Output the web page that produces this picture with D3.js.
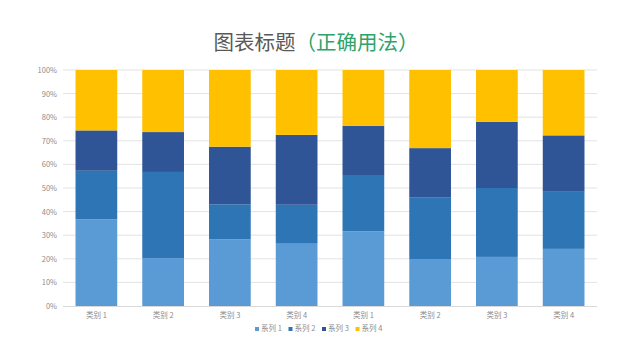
<!DOCTYPE html>
<html><head><meta charset="utf-8">
<script src="https://cdn.jsdelivr.net/npm/d3@7"></script>
<style>body{margin:0;background:#fff}svg{display:block}</style>
</head><body>
<svg id="c" width="640" height="360"></svg>
<script>
const categories = ["类别 1","类别 2","类别 3","类别 4","类别 1","类别 2","类别 3","类别 4"];
const seriesNames = ["系列 1","系列 2","系列 3","系列 4"];
const series1 = [36.7,20.3,28.3,26.4,31.6,19.9,20.8,24.2];
const series2 = [20.6,36.5,14.8,16.5,23.9,26.0,29.2,24.2];
const series3 = [17.1,16.9,24.4,29.6,20.9,21.0,28.1,23.9];
const series4 = [25.6,26.3,32.5,27.5,23.6,33.1,21.9,27.7];
const yTicks = [0,0.1,0.2,0.3,0.4,0.5,0.6,0.7,0.8,0.9,1];
const colors = ["#5B9BD5","#2E75B6","#2F5597","#FFC000"];

const svg = d3.select("#c");
const font = "'Noto Sans CJK SC','Noto Sans',sans-serif";
const m = {l:63, r:43, t:70, b:54};
const W = 640, H = 360;
const x = d3.scaleBand().domain(d3.range(categories.length)).range([m.l, W-m.r]).paddingInner(0.375).paddingOuter(0.1875);
const y = d3.scaleLinear().domain([0,1]).range([H-m.b, m.t]);

const rows = categories.map((c,i)=>{
  const vals=[series1[i],series2[i],series3[i],series4[i]];
  const tot=d3.sum(vals);
  const o={idx:i};
  seriesNames.forEach((s,j)=>o[s]=vals[j]/tot);
  return o;
});
const stacked = d3.stack().keys(seriesNames)(rows);

// gridlines
svg.append("g").selectAll("line").data(yTicks.filter(t=>t>0)).join("line")
  .attr("x1",m.l).attr("x2",W-m.r).attr("y1",d=>y(d)).attr("y2",d=>y(d))
  .attr("stroke","#e3e3e3").attr("stroke-width",1);

// y axis labels
const ya = svg.append("g").attr("transform",`translate(${m.l},0)`)
  .call(d3.axisLeft(y).tickValues(yTicks).tickFormat(d3.format(".0%")).tickSize(0).tickPadding(6));
ya.select(".domain").remove();
ya.selectAll("text").attr("fill","#8c8c8c").style("font-family",font).style("font-size","7.5px");

// bars
svg.append("g").selectAll("g").data(stacked).join("g").attr("fill",(d,i)=>colors[i])
  .selectAll("rect").data(d=>d).join("rect")
  .attr("x",d=>x(d.data.idx)).attr("width",x.bandwidth())
  .attr("y",d=>y(d[1])).attr("height",d=>y(d[0])-y(d[1]));

// x axis
const xa = svg.append("g").attr("transform",`translate(0,${y(0)})`)
  .call(d3.axisBottom(x).tickFormat(i=>categories[i]).tickSize(0).tickPadding(7));
xa.select(".domain").attr("stroke","#d9d9d9").attr("d",`M${m.l},0.5H${W-m.r}`);
xa.selectAll("text").attr("fill","#8c8c8c").style("font-family",font).style("font-size","7.5px");

// title
const t = svg.append("text").attr("x",316).attr("y",50).attr("text-anchor","middle")
  .style("font-family",font).style("font-size","20.5px");
t.append("tspan").attr("fill","#595959").text("图表标题");
t.append("tspan").attr("fill","#2ea36a").text("（正确用法）");

// legend
const lg = svg.append("g");
const itemW = 33.5, lx0 = 320 - itemW*seriesNames.length/2 + 2;
seriesNames.forEach((s,i)=>{
  const g = lg.append("g").attr("transform",`translate(${lx0+i*itemW},331)`);
  g.append("rect").attr("x",0).attr("y",-4).attr("width",4).attr("height",4).attr("fill",colors[i]);
  g.append("text").attr("x",6).attr("y",0).attr("fill","#8c8c8c")
    .style("font-family",font).style("font-size","7.5px").text(s);
});
</script>
</body></html>
